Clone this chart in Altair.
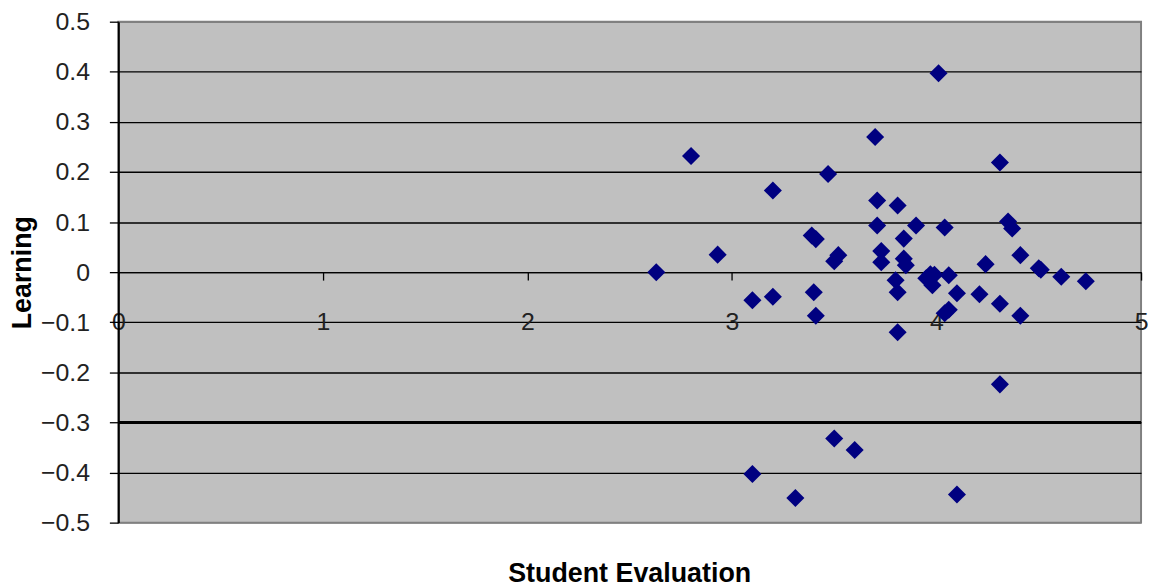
import altair as alt
import pandas as pd

# Student Evaluation (x) vs Learning (y)
student_eval = [2.63, 2.80, 2.93, 3.10, 3.20, 3.20, 3.10, 3.31, 3.39, 3.41,
                3.40, 3.41, 3.47, 3.50, 3.52, 3.50, 3.60, 3.70, 3.71, 3.81,
                3.71, 3.90, 4.04, 3.84, 3.73, 3.73, 3.84, 3.85, 3.80, 3.81,
                3.97, 3.95, 3.98, 3.99, 4.06, 4.10, 4.06, 4.04, 3.81, 4.01,
                4.31, 4.35, 4.37, 4.41, 4.24, 4.51, 4.61, 4.73, 4.21, 4.31,
                4.41, 4.31, 4.10, 4.50]
learning = [0.000, 0.232, 0.035, -0.056, -0.049, 0.163, -0.403, -0.451, 0.073, 0.066,
            -0.040, -0.087, 0.196, 0.022, 0.034, -0.332, -0.355, 0.270, 0.143, 0.133,
            0.093, 0.093, 0.089, 0.067, 0.042, 0.020, 0.027, 0.014, -0.016, -0.040,
            -0.004, -0.012, -0.026, -0.005, -0.006, -0.042, -0.075, -0.082, -0.120, 0.397,
            0.219, 0.101, 0.087, 0.034, 0.016, 0.005, -0.009, -0.018, -0.044, -0.063,
            -0.087, -0.224, -0.444, 0.008]

x_ticks = [0, 1, 2, 3, 4, 5]
y_ticks = [-0.5, -0.4, -0.3, -0.2, -0.1, 0, 0.1, 0.2, 0.3, 0.4, 0.5]
threshold = [-0.3]

pts = pd.DataFrame({"x": student_eval, "y": learning})
thr = pd.DataFrame({"y": threshold})

FONT = "Liberation Sans"

x_scale = alt.Scale(domain=[0, 5], nice=False, zero=False)
y_scale = alt.Scale(domain=[-0.5, 0.5], nice=False, zero=False)

x_axis = alt.Axis(
    values=x_ticks, offset=-252, title=None, grid=False,
    domainColor="black", domainWidth=1.3,
    tickColor="black", tickSize=8, tickWidth=1.3,
    labelPadding=42, labelBaseline="middle", labelFontSize=25,
    labelColor="#222222", labelFont=FONT, labelFlush=False,
)

y_axis = alt.Axis(
    values=y_ticks, title="Learning",
    labelExpr="datum.value == 0 ? '0' : format(datum.value, '.1f')",
    grid=True,
    gridColor={"condition": {"test": "abs(datum.value) >= 0.49", "value": "#808080"}, "value": "black"},
    gridWidth=1.4,
    domainColor="black", domainWidth=2,
    tickColor="black", tickSize=9, tickWidth=1.3,
    labelPadding=20, labelFontSize=25, labelColor="#222222", labelFont=FONT,
    titleFontSize=27, titleFontWeight="bold", titleFont=FONT, titleColor="black",
    titlePadding=4,
)

rule = alt.Chart(thr).mark_rule(color="black", strokeWidth=3).encode(
    y=alt.Y("y:Q", scale=y_scale, axis=y_axis)
)

points = alt.Chart(pts).mark_point(
    shape="diamond", filled=True, size=330, color="#000080", opacity=1, strokeWidth=0
).encode(
    x=alt.X("x:Q", scale=x_scale, axis=x_axis),
    y=alt.Y("y:Q", scale=y_scale, axis=y_axis),
)

chart = alt.layer(rule, points).properties(
    width=1029, height=504,
    padding={"left": 0, "top": 0, "right": 0, "bottom": 0},
    title=alt.TitleParams(
        "Student Evaluation", orient="bottom", frame="group", anchor="middle",
        fontSize=27, fontWeight="bold", font=FONT, color="black", offset=26,
    ),
).configure(
    background="white"
).configure_view(
    fill="#C0C0C0", stroke="#808080", strokeWidth=2
)

chart.save("out.html", embed_options={"renderer": "svg", "actions": False})
